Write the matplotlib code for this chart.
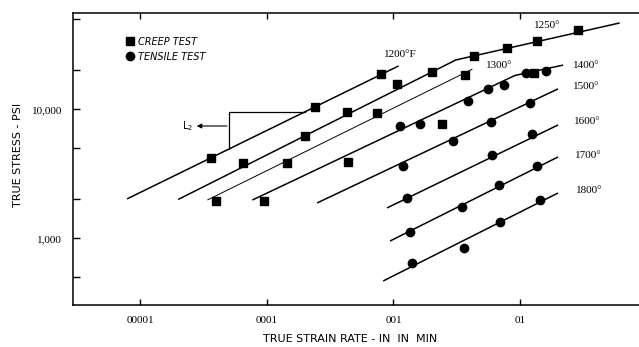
import numpy as np
import matplotlib
matplotlib.use("Agg")
import matplotlib.pyplot as plt
from matplotlib.lines import Line2D
from matplotlib.ticker import FixedLocator, NullLocator, FixedFormatter

# fitted lines, one per temperature (strain rate in/in/min, stress psi)
temps = ['1200°F', '1250°', '1300°', '1400°', '1500°', '1600°', '1700°', '1800°']
fit_rate = [
    [7.9e-6, 1.1e-3],
    [2.0e-5, 3.1e-3, 0.061],
    [3.4e-5, 4.2e-3],
    [7.7e-5, 9.1e-3, 0.0218],
    [2.5e-4, 0.0199],
    [8.9e-4, 0.0199],
    [9.4e-4, 0.0199],
    [8.3e-4, 0.0199],
]
fit_stress = [
    [2020, 21700],
    [2000, 24100, 46700],
    [1980, 20500],
    [1980, 18300, 22000],
    [1880, 14400],
    [1720, 7560],
    [953, 4270],
    [467, 2245],
]

# creep test points (squares)
creep_rate = [3.6e-5, 2.4e-4, 8.0e-4, 6.5e-5, 2.0e-4, 4.3e-4, 1.07e-3, 2.0e-3,
              4.3e-3, 7.9e-3, 0.0136, 0.0286, 1.45e-4, 7.4e-4, 3.7e-3, 4.0e-5,
              9.5e-5, 4.4e-4, 2.4e-3, 0.0129]
creep_stress = [4190, 10400, 18800, 3830, 6200, 9500, 15700, 19500,
                25900, 29900, 33800, 41200, 3830, 9360, 18400, 1950,
                1950, 3900, 7700, 19100]

# tensile test points (circles)
tensile_rate = [1.13e-3, 1.62e-3, 3.9e-3, 5.6e-3, 7.5e-3, 0.0111, 0.016,
                1.19e-3, 2.95e-3, 5.9e-3, 0.012,
                1.28e-3, 6.0e-3, 0.0124,
                1.35e-3, 3.45e-3, 6.8e-3, 0.0137,
                1.4e-3, 6.9e-3, 0.0144, 3.6e-3]
tensile_stress = [7420, 7690, 11700, 14400, 15400, 19100, 19800,
                  3640, 5680, 7970, 11100,
                  2040, 4420, 6400,
                  1125, 1760, 2590, 3650,
                  638, 1340, 1980, 836]

x_ticks = [1e-5, 1e-4, 1e-3, 1e-2]
x_ticklabels = ['00001', '0001', '001', '01']
y_ticks = [500, 1000, 2000, 5000, 10000, 20000, 50000]
y_ticklabels = ['', '1,000', '', '', '10,000', '', '']

# where the temperature labels sit
label_pos = [(1.13e-3, 26800), (0.0163, 45000), (6.9e-3, 22000), (0.0331, 22000),
             (0.0331, 14900), (0.0337, 8100), (0.0343, 4420), (0.0349, 2330)]

# L2 bracket: corner point, then it meets the 1200 line
l2_rate = 5.0e-5
l2_stress = 9600

serif = ['Liberation Serif', 'DejaVu Serif']
narrow = ['Liberation Sans Narrow', 'DejaVu Sans']

fig = plt.figure(figsize=(6.39, 3.47), dpi=100)
ax = fig.add_axes([73 / 639, 42 / 347, 566 / 639, 292 / 347])
ax.set_xscale('log')
ax.set_yscale('log')
ax.set_xlim(10 ** -5.529, 10 ** -1.062)
ax.set_ylim(10 ** 2.483, 10 ** 4.7465)

for i, (r, s) in enumerate(zip(fit_rate, fit_stress)):
    lw = 0.7 if temps[i] == '1300°' else 1.1
    ax.plot(r, s, color='black', lw=lw, solid_capstyle='butt')

ax.plot(creep_rate, creep_stress, ls='none', marker='s', ms=5.8, color='black')
ax.plot(tensile_rate, tensile_stress, ls='none', marker='o', ms=6, color='black')

for t, (x, y) in zip(temps, label_pos):
    ax.text(x, y, t, fontsize=8, family=serif, ha='center', va='center')

# L2 bracket off the 1200 line
lr = np.log10(fit_rate[0])
ls = np.log10(fit_stress[0])
x_end = 10 ** np.interp(np.log10(l2_stress), ls, lr)
y_end = 10 ** np.interp(np.log10(l2_rate), lr, ls)
ax.plot([x_end, l2_rate, l2_rate], [l2_stress, l2_stress, y_end], color='black', lw=0.9)
ax.annotate('', xy=(2.8e-5, 7420), xytext=(4.85e-5, 7420),
            arrowprops=dict(arrowstyle='-|>', lw=0.8, color='black',
                            mutation_scale=7, shrinkA=0, shrinkB=0))
ax.text(2.35e-5, 7420, 'L$_2$', fontsize=7, ha='center', va='center')

# legend
handles = [Line2D([], [], ls='none', marker='s', ms=5.5, color='black'),
           Line2D([], [], ls='none', marker='o', ms=6, color='black')]
ax.legend(handles, ['CREEP TEST', 'TENSILE TEST'], loc='upper left',
          bbox_to_anchor=(0.087, 0.935), frameon=False, handlelength=0.6,
          handletextpad=0.55, labelspacing=0.5, borderpad=0,
          prop=dict(family=narrow, style='italic', size=7))

ax.xaxis.set_major_locator(FixedLocator(x_ticks))
ax.xaxis.set_major_formatter(FixedFormatter(x_ticklabels))
ax.xaxis.set_minor_locator(NullLocator())
ax.yaxis.set_major_locator(FixedLocator(y_ticks))
ax.yaxis.set_major_formatter(FixedFormatter(y_ticklabels))
ax.yaxis.set_minor_locator(NullLocator())
ax.tick_params(axis='x', which='major', direction='in', top=True, length=4.5,
               width=1, pad=8, labelsize=8)
ax.tick_params(axis='y', which='major', direction='in', length=5, width=1,
               pad=8, labelsize=8)
for lab in ax.get_xticklabels() + ax.get_yticklabels():
    lab.set_family(serif)

ax.spines['right'].set_visible(False)
for sp in ['left', 'top', 'bottom']:
    ax.spines[sp].set_linewidth(1.1)

fig.text(350 / 639, 1 - 339 / 347, 'TRUE STRAIN RATE - IN  IN  MIN', fontsize=8,
         family=narrow, ha='center', va='center')
fig.text(18 / 639, 1 - 155 / 347, 'TRUE STRESS - PSI', fontsize=8, family=narrow,
         rotation=90, ha='center', va='center')

fig.savefig('out.png', dpi=100)
